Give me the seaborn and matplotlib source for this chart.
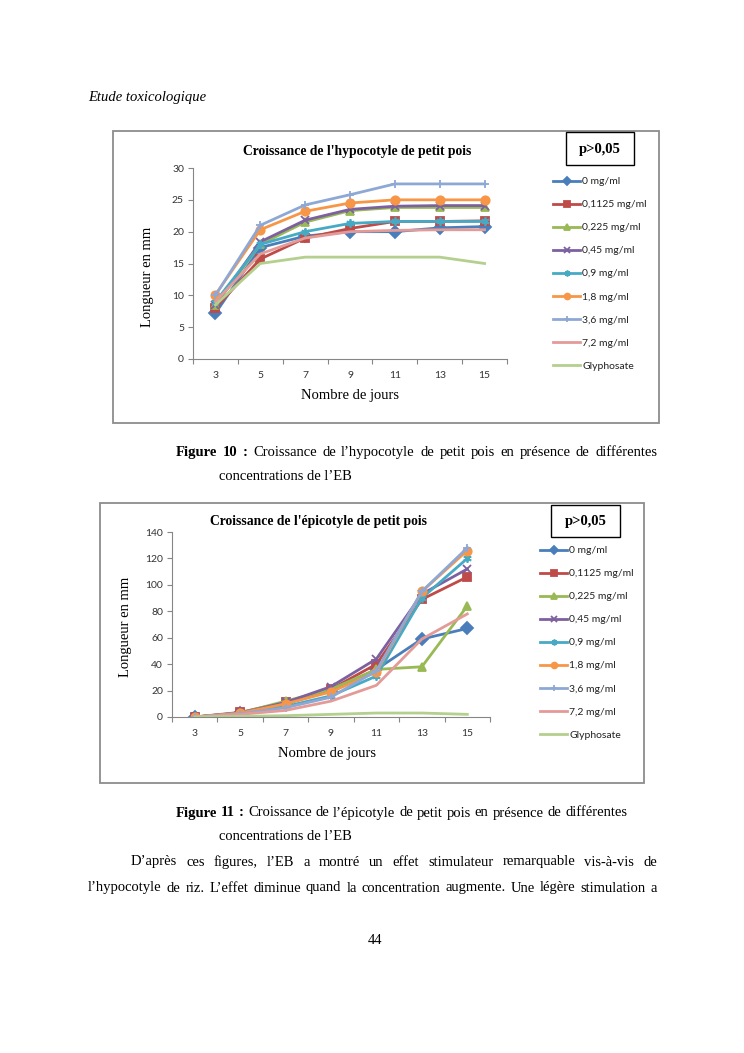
import pandas as pd
import seaborn as sns
import matplotlib.pyplot as plt
from matplotlib.patches import Rectangle

# values (days 3 -> 15)
DAYS = [3, 5, 7, 9, 11, 13, 15]
CONC = ["0 mg/ml", "0,1125 mg/ml", "0,225 mg/ml", "0,45 mg/ml", "0,9 mg/ml",
        "1,8 mg/ml", "3,6 mg/ml", "7,2 mg/ml", "Glyphosate"]

hypo_0 = [7.2, 17.5, 19.3, 20.0, 20.0, 20.6, 20.8]
hypo_01125 = [8.0, 15.7, 19.0, 20.5, 21.6, 21.6, 21.7]
hypo_0225 = [8.5, 18.0, 21.5, 23.3, 23.8, 23.8, 23.8]
hypo_045 = [8.5, 18.4, 21.8, 23.5, 24.0, 24.1, 24.1]
hypo_09 = [9.0, 18.0, 20.0, 21.3, 21.6, 21.6, 21.6]
hypo_18 = [10.1, 20.3, 23.2, 24.5, 25.0, 25.0, 25.0]
hypo_36 = [10.0, 21.0, 24.2, 25.8, 27.5, 27.5, 27.5]
hypo_72 = [9.0, 16.5, 19.0, 20.0, 20.2, 20.3, 20.3]
hypo_gly = [8.5, 15.0, 16.0, 16.0, 16.0, 16.0, 15.0]

epi_0 = [0, 3, 10, 20, 36, 59, 67]
epi_01125 = [0, 3.5, 11, 21, 40, 89, 106]
epi_0225 = [0, 3, 12, 21, 36, 38, 84]
epi_045 = [0, 3, 11, 23, 44, 93, 112]
epi_09 = [0, 2, 8, 16, 31, 90, 120]
epi_18 = [0, 3, 10, 19, 34, 95, 126]
epi_36 = [0, 2.5, 7, 15, 35, 95, 128]
epi_72 = [0, 2, 5, 12, 24, 59, 78]
epi_gly = [0, 0.5, 1, 2, 3, 3, 2]

HYPO = [hypo_0, hypo_01125, hypo_0225, hypo_045, hypo_09, hypo_18, hypo_36, hypo_72, hypo_gly]
EPI = [epi_0, epi_01125, epi_0225, epi_045, epi_09, epi_18, epi_36, epi_72, epi_gly]

COLORS = ["#4A7EBB", "#BE4B48", "#98B954", "#7D60A0", "#46AAC5",
          "#F79646", "#8EA8D6", "#E39B98", "#B4CF8E"]
MARKERS = ["D", "s", "^", "x", (6, 2, 0), "o", "+", "None", "None"]

SERIF = "Liberation Serif"
SANS = "Lato"
W, H = 744, 1053
GRAY = "#868686"


def fx(px):
    return px / W


def fy(py):
    return 1 - py / H


def long_df(series):
    rows = []
    for name, vals in zip(CONC, series):
        for d, v in zip(DAYS, vals):
            rows.append({"jour": d, "longueur": v, "conc": name})
    return pd.DataFrame(rows)


fig = plt.figure(figsize=(7.44, 10.53), dpi=100)


def chart(box, axrect, series, ymax, ystep, title, tpos, ylpos, xlpos, legpos, pbox):
    # outer grey chart frame
    fig.patches.append(Rectangle((fx(box[0]), fy(box[3])), fx(box[2] - box[0]), (box[3] - box[1]) / H,
                                 transform=fig.transFigure, fill=False, ec="#8c8c8c", lw=1.3))
    l, r, t, b = axrect
    ax = fig.add_axes([fx(l), fy(b), fx(r - l), (b - t) / H])
    sns.lineplot(data=long_df(series), x="jour", y="longueur", hue="conc",
                 hue_order=CONC, palette=dict(zip(CONC, COLORS)), linewidth=2.0,
                 legend=False, ax=ax)
    # Excel-like markers per series
    for line, m in zip(ax.lines, MARKERS):
        line.set_marker(m)
        line.set_markersize(6)
        line.set_markeredgecolor(line.get_color())
        line.set_markerfacecolor(line.get_color())
        line.set_markeredgewidth(1.3)
    ax.set_xlim(2, 16)
    ax.set_ylim(0, ymax)
    ax.set_xticks(DAYS)
    ax.set_xticks(range(2, 17, 2), minor=True)
    ax.set_yticks(range(0, ymax + 1, ystep))
    ax.tick_params(axis="x", which="major", length=0, pad=9, labelsize=7.5, labelcolor="#333333")
    ax.tick_params(axis="x", which="minor", length=3.5, color=GRAY, width=0.8)
    ax.tick_params(axis="y", length=3.5, color=GRAY, width=0.8, pad=3, labelsize=7.5, labelcolor="#333333")
    for lab in ax.get_xticklabels() + ax.get_yticklabels():
        lab.set_family(SANS)
    for s in ["top", "right"]:
        ax.spines[s].set_visible(False)
    for s in ["left", "bottom"]:
        ax.spines[s].set_color(GRAY)
        ax.spines[s].set_linewidth(0.8)
    ax.set_xlabel("")
    ax.set_ylabel("")
    ax.set_facecolor("none")
    fig.text(fx(tpos[0]), fy(tpos[1]), title, family=SERIF, weight="bold", fontsize=9.8,
             ha="center", va="center")
    fig.text(fx(ylpos[0]), fy(ylpos[1]), "Longueur en mm", family=SERIF, fontsize=10.5,
             rotation=90, ha="center", va="center")
    fig.text(fx(xlpos[0]), fy(xlpos[1]), "Nombre de jours", family=SERIF, fontsize=10.5,
             ha="center", va="center")
    leg = ax.legend(handles=ax.lines[:9], labels=CONC, loc="upper left",
                    bbox_to_anchor=(fx(legpos[0]), fy(legpos[1])), bbox_transform=fig.transFigure,
                    frameon=False, borderpad=0, borderaxespad=0, handlelength=2.6,
                    handletextpad=0.2, labelspacing=1.32, markerscale=0.7,
                    prop={"family": SANS, "size": 7.5})
    for t in leg.get_texts():
        t.set_color("#222222")
    # p-value box
    fig.patches.append(Rectangle((fx(pbox[0]), fy(pbox[3])), fx(pbox[2] - pbox[0]), (pbox[3] - pbox[1]) / H,
                                 transform=fig.transFigure, fill=True, fc="white", ec="black", lw=1.0))
    fig.text(fx((pbox[0] + pbox[2]) / 2), fy((pbox[1] + pbox[3]) / 2 + 1), "p>0,05", family=SERIF,
             weight="bold", fontsize=10.5, ha="center", va="center")
    return ax


chart((113, 131, 659, 423), (193, 507, 168, 359), HYPO, 30, 5,
      "Croissance de l'hypocotyle de petit pois", (357, 151), (147, 277), (350, 395),
      (553, 177), (566, 132, 634, 165))
chart((100, 503, 644, 783), (172, 490, 532, 717), EPI, 140, 20,
      "Croissance de l'épicotyle de petit pois", (318, 522), (126, 627), (327, 753),
      (540, 546), (551, 505, 620, 537))

renderer = fig.canvas.get_renderer()


def justify(words, x0, x1, y, size=10.5):
    # place words so the line fills x0..x1 (justified paragraph)
    texts = [fig.text(fx(x0), fy(y), w, family=SERIF, weight=wt, fontsize=size, va="center")
             for w, wt in words]
    widths = [t.get_window_extent(renderer).width for t in texts]
    gap = (x1 - x0 - sum(widths)) / (len(texts) - 1)
    x = x0
    for t, wd in zip(texts, widths):
        t.set_x(fx(x))
        x += wd + gap


def words(s, weight="normal"):
    return [(w, weight) for w in s.split()]


fig.text(fx(88), fy(98), "Etude toxicologique", family=SERIF, style="italic", fontsize=10.5, va="center")

justify(words("Figure 10 :", "bold") + words("Croissance de l’hypocotyle de petit pois en présence de différentes"),
        176, 657, 452)
fig.text(fx(219), fy(477), "concentrations de l’EB", family=SERIF, fontsize=10.5, va="center")

justify(words("Figure 11 :", "bold") + words("Croissance de l’épicotyle de petit pois en présence de différentes"),
        176, 627, 813)
fig.text(fx(219), fy(836), "concentrations de l’EB", family=SERIF, fontsize=10.5, va="center")

justify(words("D’après ces figures, l’EB a montré un effet stimulateur remarquable vis-à-vis de"), 131, 657, 862)
justify(words("l’hypocotyle de riz. L’effet diminue quand la concentration augmente. Une légère stimulation a"),
        88, 657, 888)
fig.text(fx(375), fy(940), "44", family=SERIF, fontsize=10.5, ha="center", va="center")

fig.savefig("out.png", dpi=100)
